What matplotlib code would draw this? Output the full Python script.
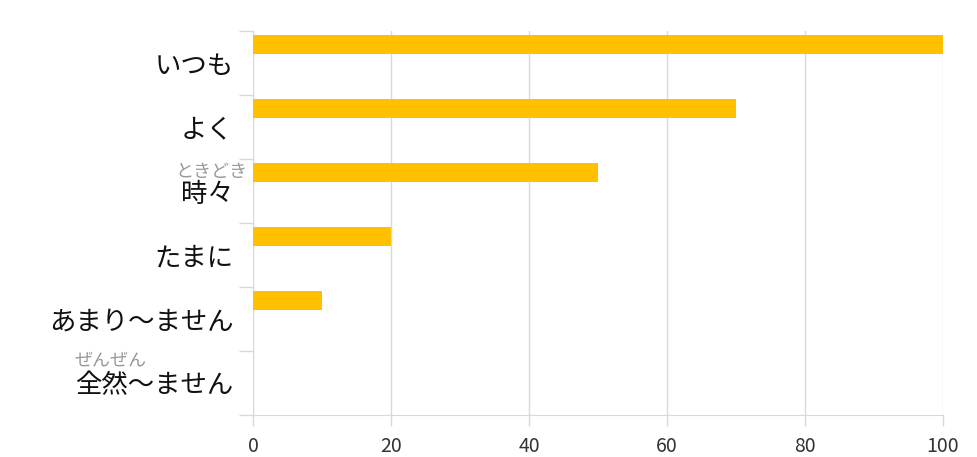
import matplotlib
matplotlib.use("Agg")
import matplotlib.pyplot as plt

plt.rcParams['font.family'] = ['Noto Sans CJK JP', 'DejaVu Sans']

# data
categories = ["いつも", "よく", "時々", "たまに", "あまり～ません", "全然～ません"]
values = [100, 70, 50, 20, 10, 0]
ruby = {"時々": "ときどき", "全然～ません": "ぜんぜん"}
x_ticks = [0, 20, 40, 60, 80, 100]

bar_color = "#FFC000"
grid_color = "#d9d9d9"

fig = plt.figure(figsize=(9.77, 4.57), dpi=100)
ax = fig.add_axes([0.259, 0.092, 0.706, 0.840])

pos = list(range(len(categories)))
# bars sit in the upper part of each band
ax.barh([p - 0.29 for p in pos], values, height=0.30, color=bar_color, zorder=3)

ax.set_xlim(0, 100)
ax.set_ylim(len(categories) - 0.5, -0.5)

ax.set_xticks(x_ticks)
ax.set_xticklabels([str(t) for t in x_ticks], fontsize=14, color="#333333")
ax.grid(axis="x", color=grid_color, linewidth=1, zorder=0)

# band boundaries as major ticks, labels on minor ticks
ax.set_yticks([p - 0.5 for p in pos] + [len(categories) - 0.5])
ax.set_yticklabels([])
ax.set_yticks(pos, minor=True)
ax.set_yticklabels(categories, minor=True, fontsize=19, color="#111111")
ax.tick_params(axis="y", which="major", length=10, color=grid_color, width=1)
ax.tick_params(axis="y", which="minor", length=0, pad=14)
ax.tick_params(axis="x", length=8, color=grid_color, width=1, pad=7)

for side in ["top", "right"]:
    ax.spines[side].set_visible(False)
ax.spines["left"].set_color(grid_color)
ax.spines["bottom"].set_color(grid_color)

# furigana (x offset in pixels from the axis)
ruby_x = {"時々": -42, "全然～ません": -142}
ruby_dy = {"時々": 0.29, "全然～ません": 0.35}
for cat, kana in ruby.items():
    i = categories.index(cat)
    ax.annotate(kana, xy=(0, i - ruby_dy[cat]), xycoords=("axes fraction", "data"),
                xytext=(ruby_x[cat] * 0.72, 0), textcoords="offset points",
                ha="center", va="center", fontsize=13, color="#999999",
                annotation_clip=False)

fig.savefig("out.png", dpi=100)
